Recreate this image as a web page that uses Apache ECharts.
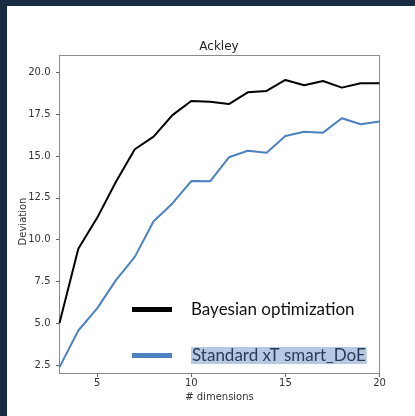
<!DOCTYPE html>
<html>
<head>
<meta charset="utf-8">
<script src="https://cdn.jsdelivr.net/npm/echarts@6/dist/echarts.min.js"></script>
<style>
    html, body { margin: 0; padding: 0; background: #fff; }
    #chart { width: 415px; height: 416px; }
</style>
</head>
<body>
<div id="chart"></div>
<script>
// dimensions on the x axis
var dims = [3, 4, 5, 6, 7, 8, 9, 10, 11, 12, 13, 14, 15, 16, 17, 18, 19, 20];
// deviation per dimension
var bayesian = [5.02, 9.45, 11.3, 13.46, 15.4, 16.15, 17.44, 18.28, 18.24, 18.1, 18.8, 18.88, 19.54, 19.22, 19.48, 19.08, 19.34, 19.34];
var smartDoe = [2.38, 4.57, 5.89, 7.58, 8.97, 11.1, 12.16, 13.5, 13.48, 14.92, 15.31, 15.19, 16.19, 16.45, 16.39, 17.25, 16.89, 17.05];
var xTicks = [5, 10, 15, 20];
var yTicks = [2.5, 5, 7.5, 10, 12.5, 15, 17.5, 20];

var names = ["Bayesian optimization", "Standard xT smart_DoE"];
var navy = "#182c44",
    axisFont = "DejaVu Sans",
    legendFont = "Lato";

var pairs = function (ys) {
    return dims.map(function (d, i) { return [d, ys[i]]; });
};

var chart = echarts.init(document.getElementById('chart'), null, {renderer: 'canvas'});

chart.setOption({
    backgroundColor: '#fff',
    animation: false,
    title: {
        text: 'Ackley',
        left: 219,
        top: 41,
        padding: 0,
        textAlign: 'center',
        textStyle: {fontFamily: axisFont, fontSize: 12, fontWeight: 'normal', color: '#222'}
    },
    grid: {
        left: 59.5, top: 55.5, width: 320, height: 318,
        show: true, borderColor: '#8a8a8a', borderWidth: 1, backgroundColor: '#fff'
    },
    xAxis: {
        type: 'value', min: 3, max: 20,
        name: '# dimensions', nameLocation: 'middle', nameGap: 19, nameMoveOverlap: false,
        nameTextStyle: {fontFamily: axisFont, fontSize: 10, color: '#333'},
        axisLine: {lineStyle: {color: '#8a8a8a'}},
        axisTick: {show: true, length: 3.5, customValues: xTicks, lineStyle: {color: '#666'}},
        axisLabel: {customValues: xTicks, margin: 5, fontFamily: axisFont, fontSize: 10, color: '#333'},
        splitLine: {show: false}
    },
    yAxis: {
        type: 'value', min: 2, max: 21,
        name: 'Deviation', nameLocation: 'middle', nameGap: 31, nameRotate: 90, nameMoveOverlap: false,
        nameTextStyle: {fontFamily: axisFont, fontSize: 10, color: '#333', padding: [0, 14, 0, 0]},
        axisLine: {show: true, lineStyle: {color: '#8a8a8a'}},
        axisTick: {show: true, length: 3.5, customValues: yTicks, lineStyle: {color: '#666'}},
        axisLabel: {
            customValues: yTicks, margin: 9, fontFamily: axisFont, fontSize: 10, color: '#333',
            formatter: function (v) { return v.toFixed(1); }
        },
        splitLine: {show: false}
    },
    legend: [{
        data: [{name: names[0], icon: 'rect'}],
        left: 132, top: 301, padding: 0,
        itemWidth: 40, itemHeight: 5,
        formatter: '{gap|}{t|{name}}',
        textStyle: {
            rich: {
                gap: {width: 14},
                t: {fontFamily: legendFont, fontSize: 17, color: '#111', lineHeight: 21}
            }
        }
    }, {
        data: [{name: names[1], icon: 'rect'}],
        left: 132, top: 347, padding: 0,
        itemWidth: 40, itemHeight: 5,
        formatter: '{gap|}{t|{name}}',
        textStyle: {
            rich: {
                gap: {width: 14},
                t: {
                    fontFamily: legendFont, fontSize: 17, color: '#2b3a55', lineHeight: 21,
                    backgroundColor: '#b7c8e4', padding: [0, 1, 0, 1]
                }
            }
        }
    }],
    graphic: [
        {type: 'rect', z: 100, shape: {x: 0, y: 0, width: 415, height: 6}, style: {fill: navy}},
        {type: 'rect', z: 100, shape: {x: 0, y: 0, width: 7, height: 416}, style: {fill: navy}}
    ],
    series: [{
        name: names[0], type: 'line', data: pairs(bayesian),
        showSymbol: false, color: '#000', lineStyle: {width: 2, color: '#000'}
    }, {
        name: names[1], type: 'line', data: pairs(smartDoe),
        showSymbol: false, color: '#4a82c2', lineStyle: {width: 2, color: '#4a82c2'}
    }]
});
</script>
</body>
</html>
